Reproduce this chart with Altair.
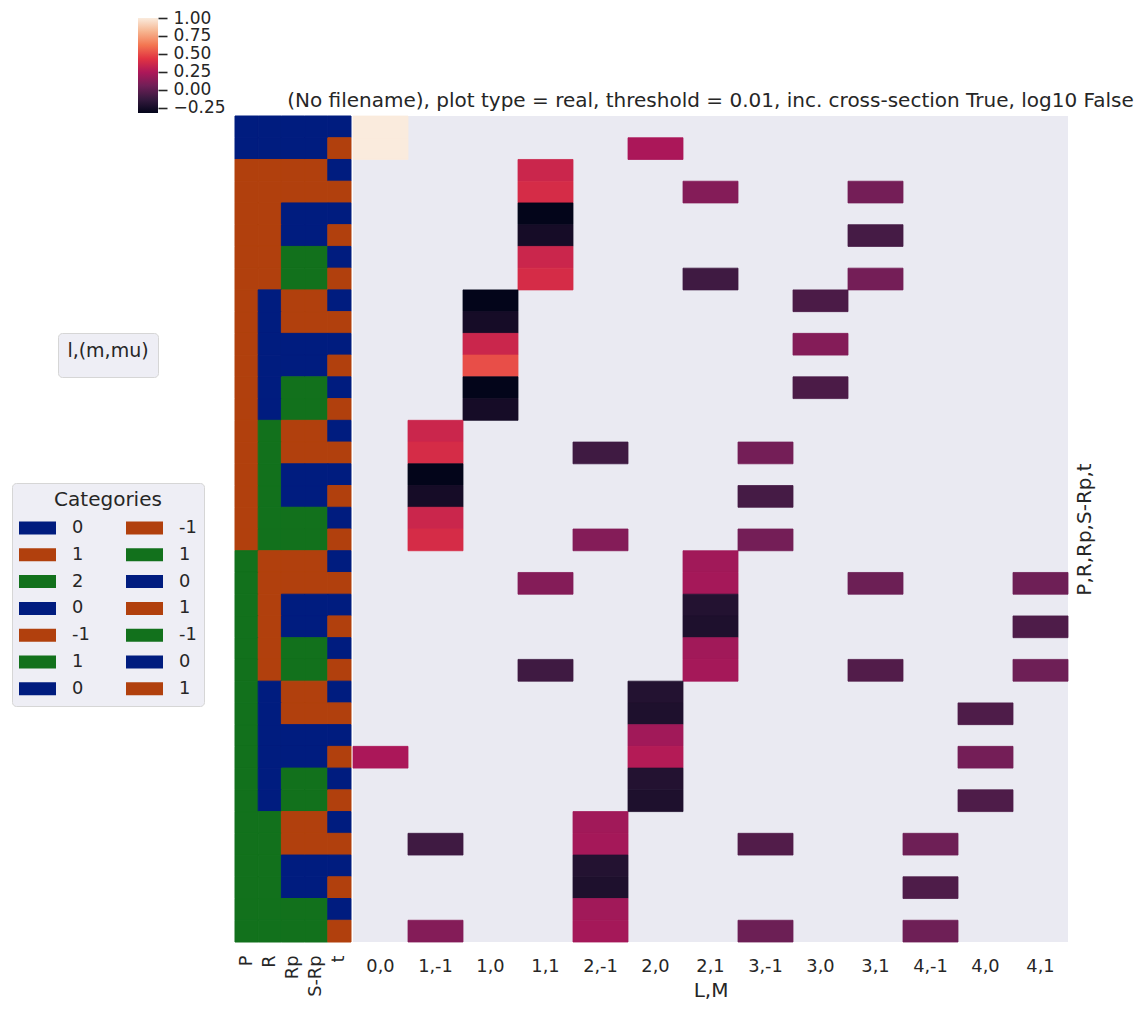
import altair as alt
import pandas as pd

# ---------------- data ----------------
LM_COLS = ["0,0", "1,-1", "1,0", "1,1", "2,-1", "2,0", "2,1",
           "3,-1", "3,0", "3,1", "4,-1", "4,0", "4,1"]
CAT_COLS = ["P", "R", "Rp", "S-Rp", "t"]

P = [0, 0,
     1, 1, 1, 1, 1, 1, 1, 1, 1, 1, 1, 1, 1, 1, 1, 1, 1, 1,
     2, 2, 2, 2, 2, 2, 2, 2, 2, 2, 2, 2, 2, 2, 2, 2, 2, 2]
R = [0, 0,
     -1, -1, -1, -1, -1, -1, 0, 0, 0, 0, 0, 0, 1, 1, 1, 1, 1, 1,
     -1, -1, -1, -1, -1, -1, 0, 0, 0, 0, 0, 0, 1, 1, 1, 1, 1, 1]
RP = [0, 0,
      -1, -1, 0, 0, 1, 1, -1, -1, 0, 0, 1, 1, -1, -1, 0, 0, 1, 1,
      -1, -1, 0, 0, 1, 1, -1, -1, 0, 0, 1, 1, -1, -1, 0, 0, 1, 1]
SRP = [0, 0,
       1, 1, 0, 0, -1, -1, 1, 1, 0, 0, -1, -1, 1, 1, 0, 0, -1, -1,
       1, 1, 0, 0, -1, -1, 1, 1, 0, 0, -1, -1, 1, 1, 0, 0, -1, -1]
T = [0, 1, 0, 1, 0, 1, 0, 1, 0, 1, 0, 1, 0, 1, 0, 1, 0, 1, 0, 1,
     0, 1, 0, 1, 0, 1, 0, 1, 0, 1, 0, 1, 0, 1, 0, 1, 0, 1]

# non-empty heatmap cells (row index, L,M column, value)
CELL_ROW = [0, 1, 1, 2, 3, 3, 3, 4, 5, 5, 6, 7, 7, 7,
            8, 8, 9, 10, 10, 11, 12, 12, 13,
            14, 15, 15, 15, 16, 17, 17, 18, 19, 19, 19,
            20, 21, 21, 21, 21, 22, 23, 23, 24, 25, 25, 25, 25,
            26, 27, 27, 28, 29, 29, 29, 30, 31, 31,
            32, 33, 33, 33, 33, 34, 35, 35, 36, 37, 37, 37, 37]
CELL_LM = ["0,0", "0,0", "2,0", "1,1", "1,1", "2,1", "3,1", "1,1", "1,1", "3,1", "1,1", "1,1", "2,1", "3,1",
           "1,0", "3,0", "1,0", "1,0", "3,0", "1,0", "1,0", "3,0", "1,0",
           "1,-1", "1,-1", "2,-1", "3,-1", "1,-1", "1,-1", "3,-1", "1,-1", "1,-1", "2,-1", "3,-1",
           "2,1", "1,1", "2,1", "3,1", "4,1", "2,1", "2,1", "4,1", "2,1", "1,1", "2,1", "3,1", "4,1",
           "2,0", "2,0", "4,0", "2,0", "0,0", "2,0", "4,0", "2,0", "2,0", "4,0",
           "2,-1", "1,-1", "2,-1", "3,-1", "4,-1", "2,-1", "2,-1", "4,-1", "2,-1", "1,-1", "2,-1", "3,-1", "4,-1"]
CELL_VAL = [1.0, 1.0, 0.24, 0.35, 0.39, 0.12, 0.07, -0.32, -0.25, -0.08, 0.35, 0.39, -0.10, 0.07,
            -0.32, -0.06, -0.25, 0.35, 0.12, 0.51, -0.32, -0.06, -0.25,
            0.35, 0.39, -0.10, 0.07, -0.32, -0.25, -0.08, 0.35, 0.39, 0.12, 0.07,
            0.21, 0.12, 0.22, 0.045, 0.05, -0.20, -0.22, -0.05, 0.21, -0.10, 0.22, -0.04, 0.05,
            -0.20, -0.22, -0.05, 0.21, 0.24, 0.27, 0.07, -0.20, -0.22, -0.05,
            0.21, -0.10, 0.22, -0.04, 0.05, -0.20, -0.22, -0.05, 0.21, 0.12, 0.22, 0.045, 0.05]

# category levels in legend order and palette (seaborn "dark")
CAT_LEVELS = {"P": [0, 1, 2], "R": [0, -1, 1], "Rp": [0, -1, 1],
              "S-Rp": [0, 1, -1], "t": [0, 1]}
PALETTE = ["#001c7f", "#b1400d", "#12711c"]

VMIN, VMAX = -0.32, 1.0
ROCKET = ["#03051a", "#35193e", "#701f57", "#ad1759",
          "#e13342", "#f37651", "#f6b48f", "#faebdd"]
ROCKET_POS = [0, 1 / 7, 2 / 7, 3 / 7, 4 / 7, 5 / 7, 6 / 7, 1]
CBAR_TICKS = [-0.25, 0.0, 0.25, 0.5, 0.75, 1.0]

TITLE = ("(No filename), plot type = real, threshold = 0.01, "
         "inc. cross-section True, log10 False")

# ---------------- tables ----------------
cat_values = {"P": P, "R": R, "Rp": RP, "S-Rp": SRP, "t": T}
row_keys = [f"{P[i]},{R[i]},{RP[i]},{SRP[i]},{T[i]}" for i in range(len(P))]

strip_rows = []
for i, rk in enumerate(row_keys):
    for c in CAT_COLS:
        strip_rows.append({"row": rk, "cat": c,
                           "key": f"{c}={cat_values[c][i]}"})
strip_df = pd.DataFrame(strip_rows)

leg_keys, leg_colors = [], []
for c in CAT_COLS:
    for j, v in enumerate(CAT_LEVELS[c]):
        leg_keys.append(f"{c}={v}")
        leg_colors.append(PALETTE[j])

heat_df = pd.DataFrame({"row": [row_keys[r] for r in CELL_ROW],
                        "lm": CELL_LM, "val": CELL_VAL})

cdomain = [VMIN + p * (VMAX - VMIN) for p in ROCKET_POS]

# ---------------- style ----------------
TXT = "#262626"
FS_T = 20
FS_L = 17.8
FS_CB = 17
BOX_FILL = "#eeeef5"
BOX_STROKE = "#d6d6d6"
PATCH = "M-1,-0.35L1,-0.35L1,0.35L-1,0.35Z"

# ---------------- colorbar ----------------
cbar = alt.Chart(pd.DataFrame({"lo": [VMIN], "hi": [VMAX]}),
                 view=alt.ViewBackground(stroke=None)).mark_rect(
    fill={"gradient": "linear", "x1": 0, "x2": 0, "y1": 1, "y2": 0,
          "stops": [{"offset": p, "color": c} for p, c in zip(ROCKET_POS, ROCKET)]}
).encode(
    x=alt.value(0), x2=alt.value(20),
    y=alt.Y("lo:Q", scale=alt.Scale(domain=[VMIN, VMAX], nice=False, zero=False),
            axis=alt.Axis(orient="right", values=CBAR_TICKS, format=".2f",
                          tickSize=9, tickWidth=1.6, tickColor=TXT,
                          domain=False, grid=False, labelFontSize=FS_CB,
                          labelColor=TXT, labelPadding=6, title=None)),
    y2="hi:Q",
).properties(width=20, height=95)

# ---------------- spacer ----------------
spacer = alt.Chart(pd.DataFrame({"a": [0]}),
                   view=alt.ViewBackground(stroke=None)).mark_rect(opacity=0).encode(
    x=alt.value(0)).properties(width=95, height=826)

# ---------------- category strip ----------------
key_scale = alt.Scale(domain=leg_keys, range=leg_colors)
strip_rects = alt.Chart(strip_df).mark_rect(strokeWidth=1).encode(
    x=alt.X("cat:N", scale=alt.Scale(domain=CAT_COLS),
            axis=alt.Axis(title=None, labelAngle=-90, ticks=False, domain=False,
                          labelPadding=13, labelFontSize=FS_L, labelColor=TXT)),
    y=alt.Y("row:N", scale=alt.Scale(domain=row_keys), axis=None),
    fill=alt.Fill("key:N", scale=key_scale,
                  legend=alt.Legend(
                      title="Categories", orient="none", legendX=-126, legendY=465,
                      columns=2, columnPadding=36, clipHeight=20, rowPadding=6.8,
                      padding=7, titlePadding=8, titleAnchor="middle",
                      titleFontSize=FS_T, titleFontWeight="normal", titleColor=TXT,
                      labelFontSize=FS_L, labelColor=TXT, labelOffset=16,
                      labelExpr="split(datum.label, '=')[1]",
                      symbolType=PATCH, symbolSize=1369,
                      symbolStrokeWidth=0, symbolOpacity=1,
                      fillColor=BOX_FILL, strokeColor=BOX_STROKE, cornerRadius=4)),
    stroke=alt.Stroke("key:N", scale=key_scale, legend=None),
)

lm_box = alt.Chart(pd.DataFrame({"grp": ["l,(m,mu)"]})).mark_point(opacity=0).encode(
    shape=alt.Shape("grp:N",
                    legend=alt.Legend(
                        title="l,(m,mu)", orient="none", legendX=-80, legendY=315,
                        padding=9, titlePadding=6, titleAnchor="middle",
                        titleFontSize=19, titleFontWeight="normal",
                        titleColor=TXT, labelExpr="''", labelFontSize=1,
                        symbolSize=0, symbolStrokeWidth=0, symbolOpacity=0,
                        fillColor=BOX_FILL, strokeColor=BOX_STROKE,
                        cornerRadius=4)),
)

strip = alt.layer(strip_rects, lm_box, view=alt.ViewBackground(stroke=None)).properties(
    width=116, height=826)

# ---------------- heatmap ----------------
heat_scale = alt.Scale(domain=cdomain, range=ROCKET, interpolate="rgb")
heat = alt.Chart(
    heat_df,
    view=alt.ViewBackground(fill="#eaeaf2", stroke=None),
    title=alt.TitleParams(TITLE, fontSize=FS_T, fontWeight="normal", color=TXT,
                          anchor="middle", offset=5),
).mark_rect(strokeWidth=0.8).encode(
    x=alt.X("lm:N", scale=alt.Scale(domain=LM_COLS),
            axis=alt.Axis(title="L,M", labelAngle=0, ticks=False, domain=False, grid=False,
                          labelPadding=15, titlePadding=6, labelFontSize=FS_L,
                          labelColor=TXT, titleFontSize=FS_T, titleFontWeight="normal",
                          titleColor=TXT)),
    y=alt.Y("row:N", scale=alt.Scale(domain=row_keys),
            axis=alt.Axis(orient="right", labels=False, ticks=False, domain=False,
                          grid=False, title="P,R,Rp,S-Rp,t", titleAngle=-90,
                          titleBaseline="top", titlePadding=6, titleFontSize=FS_T,
                          titleFontWeight="normal", titleColor=TXT)),
    color=alt.Color("val:Q", scale=heat_scale, legend=None),
    stroke=alt.Stroke("val:Q", scale=heat_scale, legend=None),
).properties(width=715, height=826)

main = alt.hconcat(spacer, strip, heat, spacing=2, bounds="flush")
chart = alt.vconcat(cbar, main, spacing=3, bounds="flush").properties(
    padding={"left": 11, "top": 9, "right": 5, "bottom": 5}
).configure(font="DejaVu Sans").configure_view(stroke=None)

chart.save("out.html", embed_options={"renderer": "svg", "actions": False})
